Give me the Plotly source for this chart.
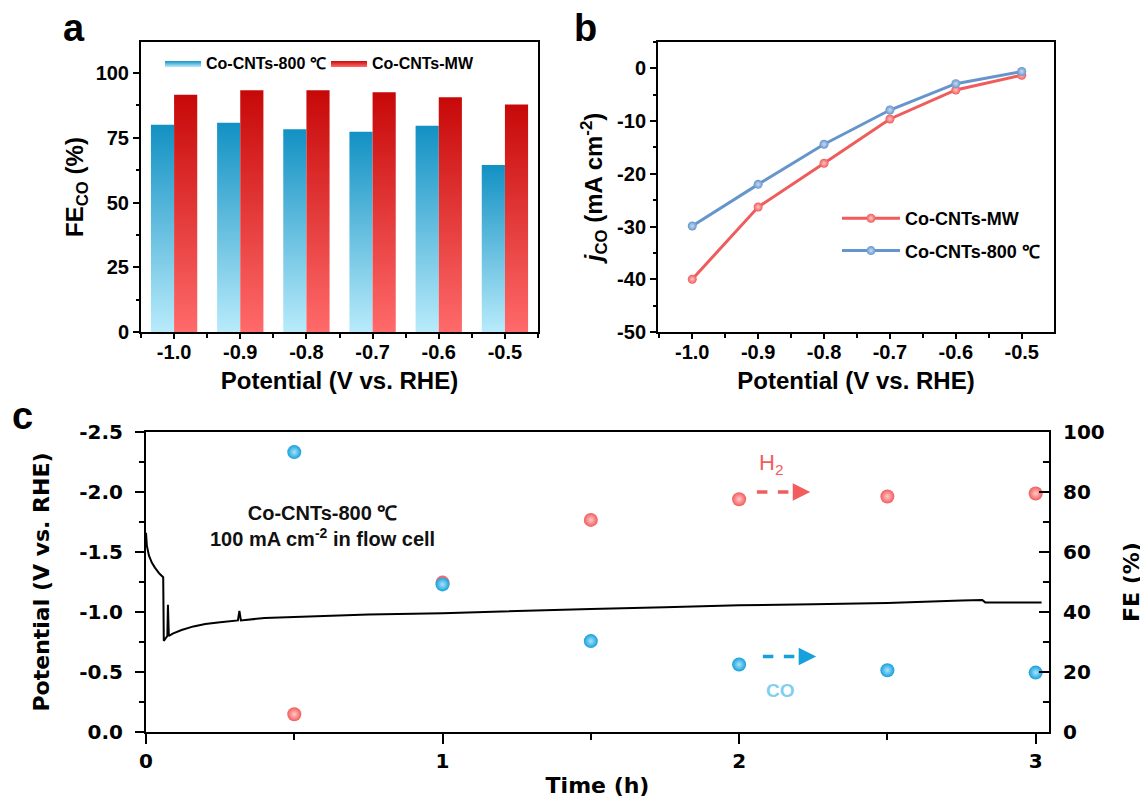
import plotly.graph_objects as go

# ---------------- data ----------------
potentials = [-1.0, -0.9, -0.8, -0.7, -0.6, -0.5]
potential_labels = ["-1.0", "-0.9", "-0.8", "-0.7", "-0.6", "-0.5"]
fe_co_800 = [80.0, 80.8, 78.3, 77.3, 79.7, 64.5]
fe_co_mw = [91.6, 93.4, 93.4, 92.6, 90.7, 87.9]

j_co_mw = [-40.0, -26.3, -18.0, -9.6, -4.1, -1.3]
j_co_800 = [-29.9, -22.0, -14.4, -7.9, -2.9, -0.6]

time_fe = [0.5, 1.0, 1.5, 2.0, 2.5, 3.0]
fe_h2_time = [5.9, 49.8, 70.7, 77.6, 78.5, 79.5]
fe_co_time = [93.3, 49.2, 30.3, 22.5, 20.6, 19.8]

time_trace = [0.0, 0.003, 0.01, 0.02, 0.03, 0.045, 0.058, 0.06, 0.066, 0.072, 0.074, 0.077,
              0.09, 0.12, 0.16, 0.2, 0.25, 0.31, 0.315, 0.32, 0.4, 0.5, 0.75, 1.0, 1.25,
              1.5, 1.75, 2.0, 2.25, 2.5, 2.75, 2.82, 2.83, 3.02]
potential_trace = [-1.66, -1.55, -1.47, -1.41, -1.37, -1.32, -1.29, -0.76, -0.78, -0.80, -1.06, -0.80,
                   -0.82, -0.85, -0.88, -0.90, -0.915, -0.93, -1.01, -0.93, -0.95, -0.96, -0.98, -0.99, -1.01,
                   -1.025, -1.04, -1.056, -1.065, -1.075, -1.095, -1.10, -1.08, -1.08]

c_ticks_left = [0, -0.5, -1.0, -1.5, -2.0, -2.5]
c_ticklabels_left = ["0.0", "-0.5", "-1.0", "-1.5", "-2.0", "-2.5"]
b_ticks_y = [0, -10, -20, -30, -40, -50]
b_ticklabels_y = ["0", "-10", "-20", "-30", "-40", "-50"]

# ---------------- style ----------------
OFF = 8                       # default page body margin
W, H = 1148 - OFF, 802 - OFF  # figure size so it fits the window
FONT = "Liberation Sans, Arial, sans-serif"
FONT_C = "DejaVu Sans, sans-serif"
BW = 0.035
BLUE_SCALE = [[0, "#b8ebfb"], [1, "#1291c3"]]
RED_SCALE = [[0, "#ff6a6a"], [1, "#c70808"]]
RED_LINE = "#f05b5b"
BLUE_LINE = "#6595cc"
DOT_RED = "#f25c5c"
DOT_BLUE = "#16a0dc"


def px(x):
    return (x - OFF) / W


def py(y):
    return 1 - (y - OFF) / H


fig = go.Figure()

# Panel a: gradient bars
for i, p in enumerate(potentials):
    for vals, scale, name, off in ((fe_co_800, BLUE_SCALE, "Co-CNTs-800 ℃", -BW),
                                   (fe_co_mw, RED_SCALE, "Co-CNTs-MW", 0.0)):
        v = vals[i]
        fig.add_trace(go.Scatter(
            x=[p + off, p + off + BW, p + off + BW, p + off, p + off],
            y=[0, 0, v, v, 0],
            mode="lines", fill="toself", line=dict(width=0),
            fillgradient=dict(type="vertical", colorscale=scale, start=0, stop=v),
            name=name, legendgroup=name, showlegend=(i == 0), legend="legend",
            xaxis="x", yaxis="y", hoverinfo="skip"))

# Panel b: lines
fig.add_trace(go.Scatter(
    x=potentials, y=j_co_mw, mode="lines+markers", name="Co-CNTs-MW", legendgroup="mw",
    line=dict(color=RED_LINE, width=3),
    marker=dict(size=9, color=RED_LINE, gradient=dict(type="radial", color="#ffc4c4")),
    xaxis="x2", yaxis="y2", legend="legend2"))
fig.add_trace(go.Scatter(
    x=potentials, y=j_co_800, mode="lines+markers", name="Co-CNTs-800 ℃", legendgroup="c800",
    line=dict(color=BLUE_LINE, width=3),
    marker=dict(size=9, color=BLUE_LINE, gradient=dict(type="radial", color="#c8dcf4")),
    xaxis="x2", yaxis="y2", legend="legend2"))

# Panel c
fig.add_trace(go.Scatter(
    x=time_trace, y=potential_trace, mode="lines", line=dict(color="black", width=2),
    xaxis="x3", yaxis="y3", showlegend=False))
fig.add_trace(go.Scatter(
    x=time_fe, y=fe_h2_time, mode="markers",
    marker=dict(size=14, color=DOT_RED, gradient=dict(type="radial", color="#ffcaca")),
    xaxis="x3", yaxis="y4", showlegend=False, cliponaxis=False))
fig.add_trace(go.Scatter(
    x=time_fe, y=fe_co_time, mode="markers",
    marker=dict(size=14, color=DOT_BLUE, gradient=dict(type="radial", color="#a8e4fb")),
    xaxis="x3", yaxis="y4", showlegend=False, cliponaxis=False))

tickfont = dict(family=FONT, size=20, color="black", weight="bold")
titlefont = dict(family=FONT, size=24, color="black", weight="bold")
tickfont_c = dict(family=FONT_C, size=20, color="black", weight="bold")
titlefont_c = dict(family=FONT_C, size=22, color="black", weight="bold")

base = dict(showline=True, linewidth=2, linecolor="black", tickwidth=2, automargin=False,
            tickcolor="black", showgrid=False, zeroline=False)
common = dict(ticks="outside", tickfont=tickfont, **base)


def minor(d, ln, where="outside", t0=None):
    m = dict(dtick=d, ticks=where, ticklen=ln, tickwidth=2, tickcolor="black")
    if t0 is not None:
        m["tick0"] = t0
    return m


fig.update_layout(
    width=W, height=H, margin=dict(l=0, r=0, t=0, b=0, autoexpand=False),
    paper_bgcolor="white", plot_bgcolor="white",
    xaxis=dict(domain=[px(141), px(538)], range=[-1.05, -0.45], anchor="y", mirror=True,
               tickvals=potentials, ticktext=potential_labels, ticklen=5, ticklabelstandoff=-4,
               minor=minor(0.05, 4, t0=-1.05),
               title=dict(text="Potential (V vs. RHE)", font=titlefont, standoff=10), **common),
    yaxis=dict(domain=[py(332), py(42)], range=[0, 112], anchor="x", mirror=True,
               tickvals=[0, 25, 50, 75, 100], ticklen=6, minor=minor(12.5, 3),
               title=dict(text="FE<sub>CO</sub> (%)", font=titlefont, standoff=5), **common),
    xaxis2=dict(domain=[px(658), px(1054)], range=[-1.052, -0.451], anchor="y2", mirror=True,
                tickvals=potentials, ticktext=potential_labels, ticklen=5, ticklabelstandoff=-4,
                minor=minor(0.05, 4, t0=-1.05),
                title=dict(text="Potential (V vs. RHE)", font=titlefont, standoff=10), **common),
    yaxis2=dict(domain=[py(332), py(42)], range=[-50, 5], anchor="x2", mirror=True,
                tickvals=b_ticks_y, ticktext=b_ticklabels_y, ticklen=6, minor=minor(5, 3),
                title=dict(text="<i>j</i><sub>CO</sub> (mA cm<sup>-2</sup>)", font=titlefont, standoff=8),
                **common),
    xaxis3=dict(domain=[px(146), px(1049)], range=[0, 3.045], anchor="y3", mirror=True,
                ticks="outside", tickfont=tickfont_c,
                tickvals=[0, 1, 2, 3], ticklen=10, minor=minor(0.5, 6),
                title=dict(text="Time (h)", font=titlefont_c, standoff=6), **base),
    yaxis3=dict(domain=[py(732), py(432)], range=[0, -2.5], anchor="x3",
                ticks="outside", tickfont=tickfont_c, ticklabelstandoff=8,
                tickvals=c_ticks_left, ticktext=c_ticklabels_left, ticklen=9, minor=minor(0.25, 5),
                title=dict(text="Potential (V vs. RHE)", font=titlefont_c, standoff=24), **base),
    yaxis4=dict(range=[0, 100], anchor="x3", overlaying="y3", side="right",
                ticks="inside", tickfont=tickfont_c,
                tickvals=[0, 20, 40, 60, 80, 100], ticklen=10, ticklabelstandoff=8,
                minor=minor(10, 6, where="inside"),
                title=dict(text="FE (%)", font=titlefont_c, standoff=20), **base),
    legend=dict(orientation="h", x=px(160), y=py(46), xanchor="left", yanchor="top",
                bgcolor="rgba(0,0,0,0)", font=dict(family=FONT, size=16, color="black", weight="bold"),
                itemwidth=36, entrywidth=115, entrywidthmode="pixels", tracegroupgap=0),
    legend2=dict(x=px(837), y=py(200), xanchor="left", yanchor="top", traceorder="grouped",
                 bgcolor="rgba(0,0,0,0)", font=dict(family=FONT, size=18, color="black", weight="bold"),
                 itemwidth=58, tracegroupgap=6),
)

# panel letters
for letter, (lx, ly) in {"a": (74, 28), "b": (585, 28), "c": (22, 416)}.items():
    fig.add_annotation(text=letter, x=px(lx), y=py(ly), xref="paper", yref="paper",
                       showarrow=False, xanchor="center", yanchor="middle",
                       font=dict(family=FONT, size=38, color="black", weight="bold"))

# panel c text
fig.add_annotation(text="Co-CNTs-800 ℃<br>100 mA cm<sup>-2</sup> in flow cell",
                   x=px(322), y=py(526), xref="paper", yref="paper", showarrow=False,
                   xanchor="center", yanchor="middle", align="center",
                   font=dict(family=FONT, size=20, color="#111", weight="bold"))
fig.add_annotation(text="H<sub>2</sub>", x=px(771), y=py(464), xref="paper", yref="paper",
                   showarrow=False, xanchor="center", yanchor="middle",
                   font=dict(family=FONT, size=22, color="#f25c5c"))
fig.add_annotation(text="CO", x=px(780), y=py(690), xref="paper", yref="paper",
                   showarrow=False, xanchor="center", yanchor="middle",
                   font=dict(family=FONT, size=19, color="#7fcff0", weight="bold"))

# dashed arrows
for (x0, x1, yv, col) in ((2.06, 2.20, 80.0, "#f25c5c"), (2.08, 2.22, 25.2, "#16a0dc")):
    fig.add_shape(type="line", x0=x0, x1=x1, y0=yv, y1=yv, xref="x3", yref="y4",
                  line=dict(color=col, width=3.5, dash="dash"))
    fig.add_annotation(x=x1 + 0.04, y=yv, ax=x1 - 0.005, ay=yv, xref="x3", yref="y4",
                       axref="x3", ayref="y4", showarrow=True, arrowhead=2, arrowsize=1.0,
                       arrowwidth=3.5, arrowcolor=col, text="")

fig.write_html("out.html")
